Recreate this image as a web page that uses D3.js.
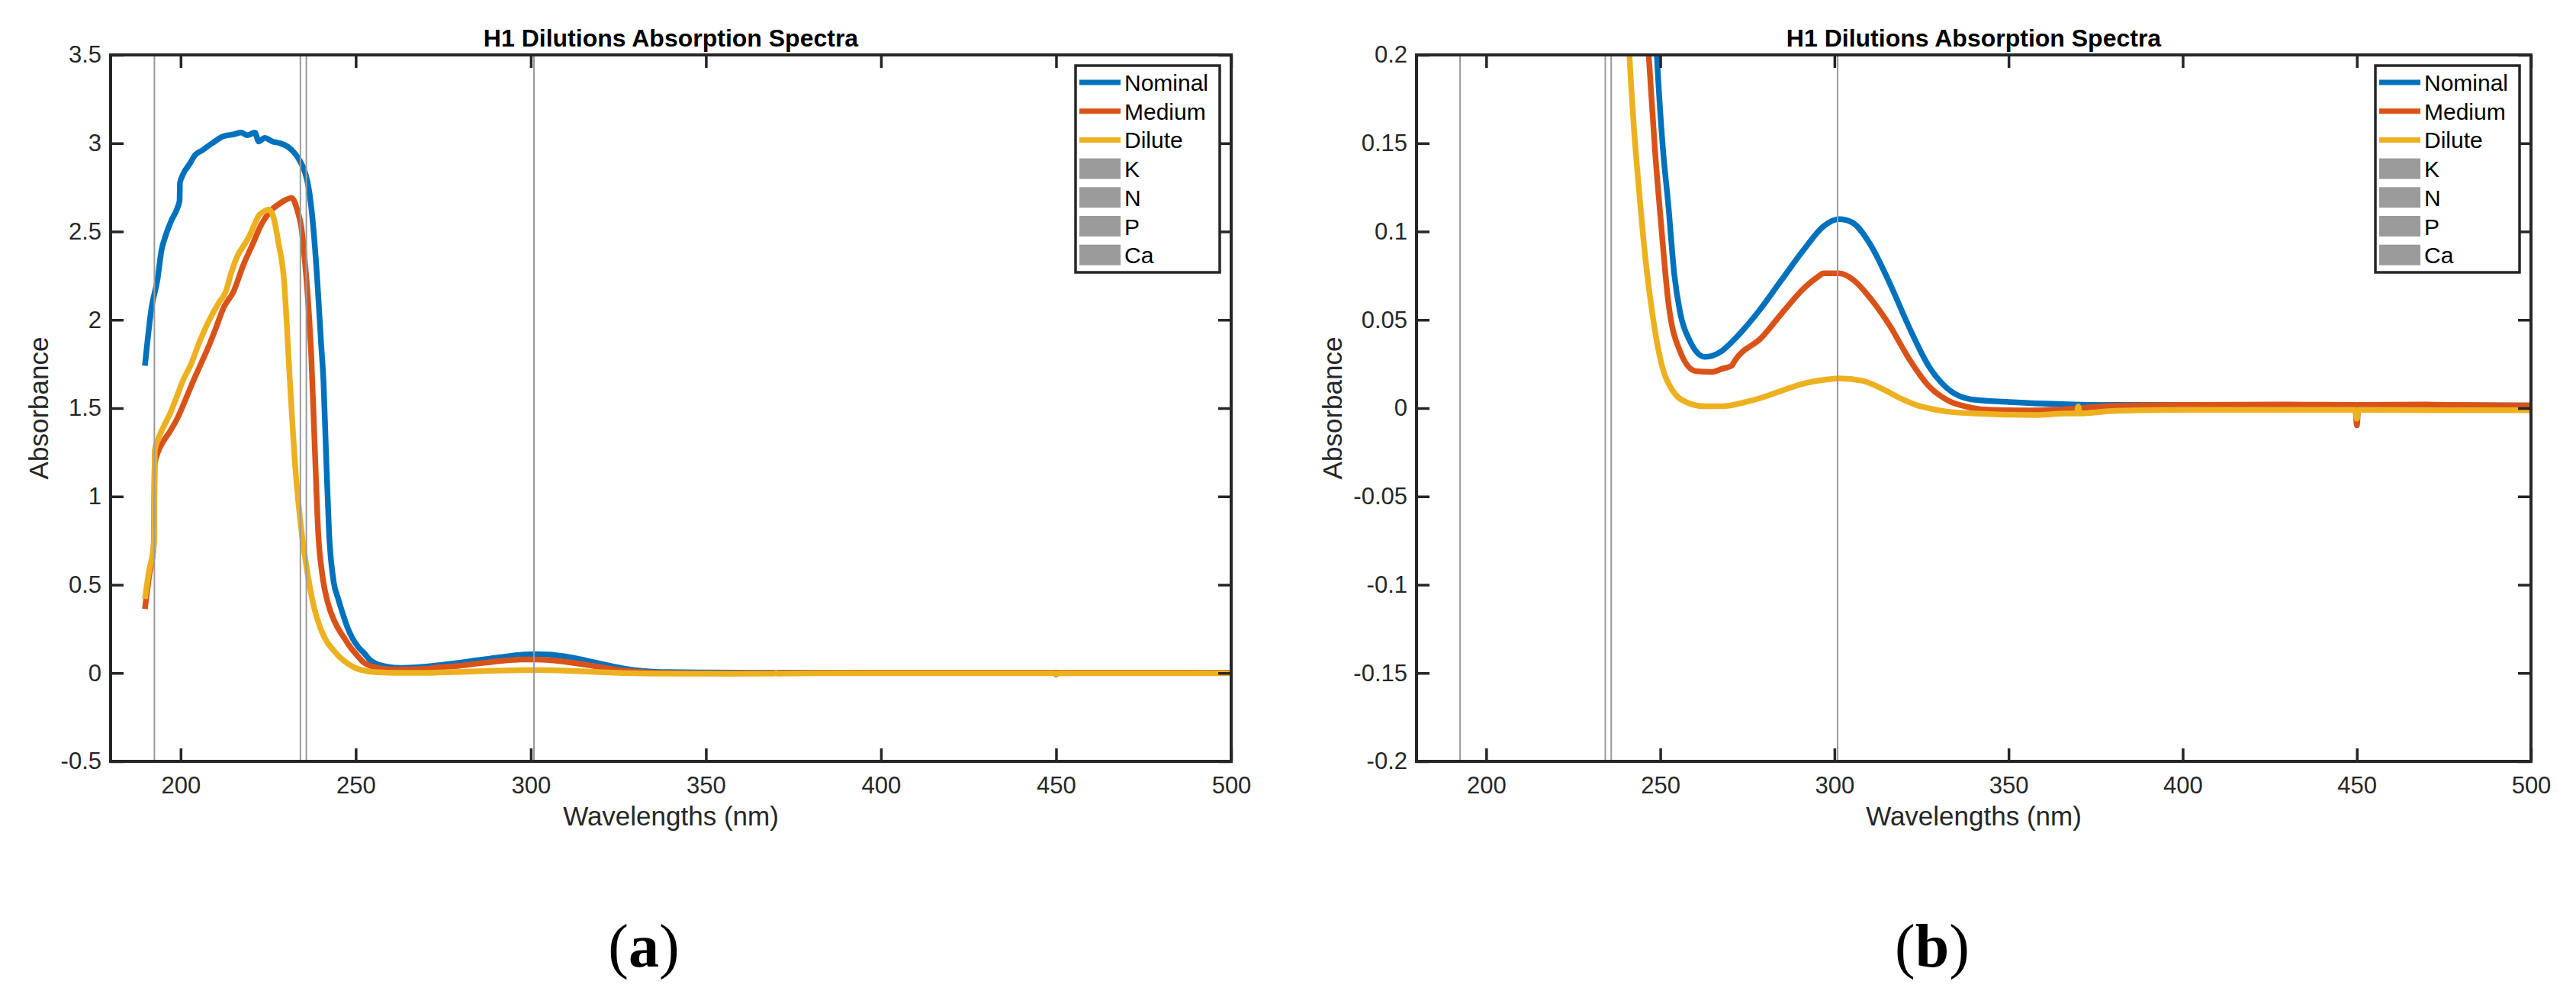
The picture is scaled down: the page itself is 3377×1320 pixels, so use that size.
<!DOCTYPE html>
<html>
<head>
<meta charset="utf-8">
<script src="https://cdn.jsdelivr.net/npm/d3@7.9.0/dist/d3.min.js"></script>
<style>
  html, body { margin: 0; padding: 0; background: #fff; }
  svg { display: block; }
</style>
</head>
<body>
<div id="chart"></div>
<script>
// Spectra: [wavelength (nm), absorbance]
const nominal = [
  [189.8, 1.74], [191.7, 2.07], [193.4, 2.23], [194.5, 2.39], [195.6, 2.47],
  [197.3, 2.56], [199.0, 2.63], [199.7, 2.675], [199.8, 2.775], [200.6, 2.82],
  [202.8, 2.89], [204.0, 2.93], [206.2, 2.96], [209.0, 3.0], [212.3, 3.04],
  [215.1, 3.05], [217.3, 3.06], [219.0, 3.045], [221.2, 3.06], [222.3, 3.01],
  [224.0, 3.03], [226.2, 3.01], [228.4, 3.0], [230.6, 2.98], [232.3, 2.95],
  [233.9, 2.905], [235.6, 2.83], [236.7, 2.73], [237.9, 2.52], [239.0, 2.23],
  [240.1, 1.87], [240.8, 1.65], [241.6, 1.2], [242.4, 0.79], [243.6, 0.53],
  [245.0, 0.42], [246.4, 0.33], [247.8, 0.25], [249.0, 0.2], [250.7, 0.148],
  [252.3, 0.115], [254.0, 0.076], [255.7, 0.054], [258.5, 0.038], [262.9, 0.029],
  [267.4, 0.032], [271.3, 0.039], [277.9, 0.054], [284.6, 0.072], [291.3, 0.09],
  [296.9, 0.103], [301.3, 0.107], [305.2, 0.105], [310.2, 0.093], [315.8, 0.071],
  [321.4, 0.046], [327.0, 0.024], [332.5, 0.011], [339.2, 0.005], [350, 0.0035],
  [367, 0.0022], [380, 0.0018], [420, 0.0018], [460, 0.0016], [500, 0.0015]
];

const medium = [
  [189.8, 0.363], [191.0, 0.55], [192.3, 0.72], [192.6, 1.18], [193.5, 1.25],
  [195, 1.31], [197, 1.37], [199, 1.44], [201, 1.53], [203.6, 1.653],
  [206, 1.76], [208.4, 1.869], [210, 1.95], [212.3, 2.07], [215.1, 2.16],
  [217.9, 2.31], [220.6, 2.43], [222.8, 2.53], [225.6, 2.615], [228.4, 2.66],
  [231.7, 2.69], [233.4, 2.615], [234.5, 2.52], [235.4, 2.35], [236.2, 2.16],
  [237.3, 1.8], [238.3, 1.28], [239.3, 0.79], [240.5, 0.55], [242, 0.4],
  [244, 0.29], [246, 0.22], [247, 0.19], [248.4, 0.148], [250.1, 0.107],
  [252.3, 0.06], [255.7, 0.032], [260.1, 0.021], [264.6, 0.0205], [267.9, 0.0224],
  [270.5, 0.024], [271.3, 0.0266], [279.1, 0.04], [285.7, 0.0556], [291.3, 0.068],
  [295, 0.074], [296.9, 0.0763], [301.3, 0.0763], [305.8, 0.072], [310.2, 0.0625],
  [315.8, 0.047], [321.4, 0.028], [327, 0.0127], [332.5, 0.0044], [339.2, 0.0003],
  [345, -0.001], [353.5, -0.0013], [367, -0.0005], [380, 0.0013], [400, 0.0018],
  [430, 0.002], [449.5, 0.0018], [450, -0.0097], [450.5, 0.0018], [470, 0.002],
  [500, 0.0015]
];

const dilute = [
  [189.8, 0.42], [191, 0.58], [192.1, 0.69], [192.4, 0.75], [192.6, 1.26],
  [193.5, 1.32], [195, 1.39], [197, 1.47], [199, 1.57], [200.6, 1.653],
  [203, 1.75], [205, 1.856], [207, 1.95], [209, 2.03], [211, 2.1],
  [212.9, 2.16], [214.5, 2.27], [216.2, 2.36], [218, 2.42], [219.5, 2.47],
  [221.2, 2.545], [222.3, 2.59], [223.5, 2.61], [225.1, 2.624], [226.2, 2.6],
  [227.1, 2.53], [227.9, 2.44], [229.5, 2.23], [231.2, 1.653], [232.8, 1.15],
  [234.6, 0.79], [235.8, 0.62], [238.2, 0.363], [240, 0.25], [241.7, 0.18],
  [242.3, 0.162], [244, 0.121], [245.7, 0.085], [247.9, 0.051], [250.1, 0.027],
  [253.5, 0.01], [257.9, 0.003], [262.4, 0.0011], [267.9, 0.0011], [273.5, 0.003],
  [280.2, 0.0066], [285.7, 0.0105], [291.3, 0.014], [296.9, 0.016], [301.3, 0.0169],
  [308, 0.0155], [314.7, 0.01], [319.3, 0.0052], [323.6, 0.0017], [326.3, 0.0003],
  [332.5, -0.002], [340, -0.003], [357.6, -0.0039], [367, -0.003], [369.6, -0.003],
  [370, 0.001], [370.4, -0.003], [380.7, -0.0015], [400, -0.001], [449.5, -0.001],
  [450, -0.006], [450.5, -0.001], [475, -0.0012], [500, -0.0012]
];

const seriesNames = ["Nominal", "Medium", "Dilute"];
const markerNames = ["K", "N", "P", "Ca"];
const markerWavelengths = [192.5, 234.2, 235.9, 300.9];

const xTicks = [200, 250, 300, 350, 400, 450, 500];
const xTickLabels = ["200", "250", "300", "350", "400", "450", "500"];
const yTicksA = [-0.5, 0, 0.5, 1, 1.5, 2, 2.5, 3, 3.5];
const yTickLabelsA = ["-0.5", "0", "0.5", "1", "1.5", "2", "2.5", "3", "3.5"];
const yTicksB = [-0.2, -0.15, -0.1, -0.05, 0, 0.05, 0.1, 0.15, 0.2];
const yTickLabelsB = ["-0.2", "-0.15", "-0.1", "-0.05", "0", "0.05", "0.1", "0.15", "0.2"];

// styles
const colors = ["#0072BD", "#D95319", "#EDB120"];
const markerColor = "#9b9b9b";
const axisColor = "#262626";
const sans = "'Liberation Sans', Arial, Helvetica, sans-serif";
const serif = "'Liberation Serif', 'Times New Roman', serif";

const W = 3377, H = 1320;
const svg = d3.select("#chart").append("svg")
  .attr("width", W)
  .attr("height", H);

const allSeries = [nominal, medium, dilute];

function drawPanel(p) {
  const x = d3.scaleLinear().domain([180, 500]).range([p.left, p.right]);
  const y = d3.scaleLinear().domain(p.yDomain).range([p.bottom, p.top]);
  const g = svg.append("g");

  g.append("clipPath").attr("id", p.id + "-clip")
    .append("rect")
    .attr("x", p.left).attr("y", p.top)
    .attr("width", p.right - p.left).attr("height", p.bottom - p.top);

  const plotArea = g.append("g").attr("clip-path", `url(#${p.id}-clip)`);

  const line = d3.line()
    .x(d => x(d[0]))
    .y(d => y(d[1]))
    .curve(d3.curveMonotoneX);
  allSeries.forEach((s, i) => {
    plotArea.append("path")
      .datum(s)
      .attr("d", line)
      .attr("fill", "none")
      .attr("stroke", colors[i])
      .attr("stroke-width", 7.5)
      .attr("stroke-linejoin", "round");
  });

  // element marker lines
  plotArea.selectAll("line.marker")
    .data(markerWavelengths)
    .join("line")
    .attr("class", "marker")
    .attr("x1", d => x(d)).attr("x2", d => x(d))
    .attr("y1", p.top).attr("y2", p.bottom)
    .attr("stroke", markerColor)
    .attr("stroke-width", 2);

  // axes, ticks pointing in on all four sides
  const styleAxis = (sel, size) => {
    sel.select(".domain").remove();
    sel.selectAll(".tick line").attr("stroke", axisColor).attr("stroke-width", 3.5);
    sel.selectAll(".tick text")
      .attr("fill", axisColor)
      .attr("font-family", sans)
      .attr("font-size", size);
  };

  g.append("g")
    .attr("transform", `translate(0,${p.bottom})`)
    .call(d3.axisBottom(x).tickValues(xTicks)
      .tickFormat((d, i) => xTickLabels[i]).tickSize(-17).tickPadding(20))
    .call(s => styleAxis(s, 31));
  g.append("g")
    .attr("transform", `translate(0,${p.top})`)
    .call(d3.axisTop(x).tickValues(xTicks).tickFormat("").tickSize(-17))
    .call(s => styleAxis(s, 31));
  g.append("g")
    .attr("transform", `translate(${p.left},0)`)
    .call(d3.axisLeft(y).tickValues(p.yTicks)
      .tickFormat((d, i) => p.yTickLabels[i]).tickSize(-17).tickPadding(12))
    .call(s => styleAxis(s, 31));
  g.append("g")
    .attr("transform", `translate(${p.right},0)`)
    .call(d3.axisRight(y).tickValues(p.yTicks).tickFormat("").tickSize(-17))
    .call(s => styleAxis(s, 31));

  g.append("rect")
    .attr("x", p.left).attr("y", p.top)
    .attr("width", p.right - p.left).attr("height", p.bottom - p.top)
    .attr("fill", "none")
    .attr("stroke", axisColor)
    .attr("stroke-width", 4);

  // title and labels
  const cx = (p.left + p.right) / 2;
  g.append("text")
    .attr("x", cx).attr("y", 61)
    .attr("text-anchor", "middle")
    .attr("font-family", sans).attr("font-weight", "bold").attr("font-size", 32)
    .attr("fill", "#000")
    .text("H1 Dilutions Absorption Spectra");

  g.append("text")
    .attr("x", cx).attr("y", 1082)
    .attr("text-anchor", "middle")
    .attr("font-family", sans).attr("font-size", 35)
    .attr("fill", axisColor)
    .text("Wavelengths (nm)");

  g.append("text")
    .attr("transform", `translate(${p.yLabelX},${(p.top + p.bottom) / 2}) rotate(-90)`)
    .attr("text-anchor", "middle")
    .attr("font-family", sans).attr("font-size", 35)
    .attr("fill", axisColor)
    .text("Absorbance");

  // legend
  const lw = 189, rowH = 37.7;
  const lx = p.right - 15 - lw, ly = 86;
  const leg = g.append("g").attr("transform", `translate(${lx},${ly})`);
  leg.append("rect")
    .attr("width", lw).attr("height", 271)
    .attr("fill", "#fff")
    .attr("stroke", axisColor)
    .attr("stroke-width", 3.5);
  const entries = seriesNames.map((n, i) => ({ name: n, kind: "line", i }))
    .concat(markerNames.map(n => ({ name: n, kind: "patch" })));
  entries.forEach((e, k) => {
    const cy = 22 + k * rowH;
    if (e.kind === "line") {
      leg.append("line")
        .attr("x1", 5).attr("x2", 59)
        .attr("y1", cy).attr("y2", cy)
        .attr("stroke", colors[e.i]).attr("stroke-width", 7);
    } else {
      leg.append("rect")
        .attr("x", 5).attr("y", cy - 13.5)
        .attr("width", 54).attr("height", 27)
        .attr("fill", markerColor);
    }
    leg.append("text")
      .attr("x", 64).attr("y", cy + 11)
      .attr("font-family", sans).attr("font-size", 30)
      .attr("fill", "#000")
      .text(e.name);
  });

  // sub-figure caption
  const cap = svg.append("text")
    .attr("x", p.captionX).attr("y", 1267)
    .attr("text-anchor", "middle")
    .attr("font-family", serif).attr("font-size", 80)
    .attr("fill", "#000");
  cap.append("tspan").text("(");
  cap.append("tspan").attr("font-weight", "bold").text(p.caption);
  cap.append("tspan").text(")");
}

drawPanel({
  id: "pa", left: 145, right: 1614, top: 72, bottom: 998,
  yDomain: [-0.5, 3.5], yTicks: yTicksA, yTickLabels: yTickLabelsA,
  yLabelX: 63, caption: "a", captionX: 844
});
drawPanel({
  id: "pb", left: 1857, right: 3318, top: 72, bottom: 998,
  yDomain: [-0.2, 0.2], yTicks: yTicksB, yTickLabels: yTickLabelsB,
  yLabelX: 1759, caption: "b", captionX: 2533
});
</script>
</body>
</html>
